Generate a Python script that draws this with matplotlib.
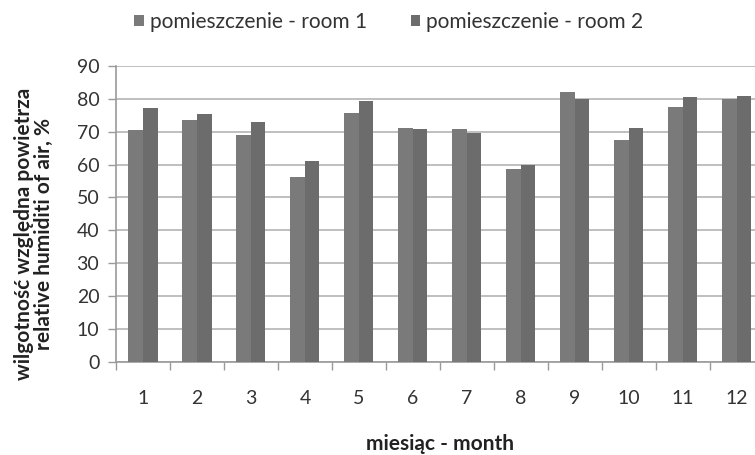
import numpy as np
import matplotlib
matplotlib.use("Agg")
import matplotlib.pyplot as plt

plt.rcParams['font.family'] = ['Lato', 'DejaVu Sans']

# dane: wilgotność względna powietrza w dwóch pomieszczeniach
months = ['1', '2', '3', '4', '5', '6', '7', '8', '9', '10', '11', '12']
room1 = [70.5, 73.6, 69.1, 56.3, 75.6, 71.2, 70.8, 58.8, 82.0, 67.6, 77.6, 79.9]
room2 = [77.3, 75.3, 73.0, 61.1, 79.3, 70.8, 69.7, 59.9, 79.9, 71.2, 80.7, 81.0]
labels = ['pomieszczenie - room 1', 'pomieszczenie - room 2']

fig = plt.figure(figsize=(7.55, 4.55), dpi=100)
ax = fig.add_axes([0.1536, 0.205, 0.858, 0.65])

x = np.arange(len(months))
w = 0.27
ax.bar(x - w / 2, room1, w, color='#7a7a7a', label=labels[0], zorder=3)
ax.bar(x + w / 2, room2, w, color='#6c6c6c', label=labels[1], zorder=3)

ax.set_xlim(-0.5, len(months) - 0.5)
ax.set_ylim(0, 90)
ax.set_yticks(range(0, 91, 10))
ax.set_xticks(x)
ax.set_xticklabels(months)
ax.set_xticks(np.arange(-0.5, len(months)), minor=True)
ax.tick_params(axis='x', which='major', length=0, pad=20, labelsize=14, labelcolor='#333333')
ax.tick_params(axis='x', which='minor', length=6, color='#9a9a9a', width=1)
ax.tick_params(axis='y', length=6, color='#9a9a9a', width=1, pad=6, labelsize=14, labelcolor='#333333')

ax.grid(axis='y', color='#b4b4b4', linewidth=1.2, zorder=0)
for s in ['top', 'right']:
    ax.spines[s].set_visible(False)
ax.spines['left'].set_color('#9a9a9a')
ax.spines['bottom'].set_color('#9a9a9a')
ax.spines['left'].set_linewidth(1.2)
ax.spines['bottom'].set_linewidth(1.2)

ax.set_xlabel('miesiąc - month', fontsize=15, fontweight='bold', color='#222222', labelpad=20)
fig.text(0.045, 0.485, 'wilgotność względna powietrza\nrelative humiditi of air, %',
         rotation=90, ha='center', va='center', fontsize=15, fontweight='bold',
         color='#222222', linespacing=1.0)

fig.legend(loc='upper center', bbox_to_anchor=(0.515, 1.015), ncol=2, frameon=False,
           fontsize=15, handlelength=0.45, handleheight=0.45, handletextpad=0.3,
           columnspacing=2.1, labelcolor='#333333')

fig.savefig('out.png', dpi=100)
